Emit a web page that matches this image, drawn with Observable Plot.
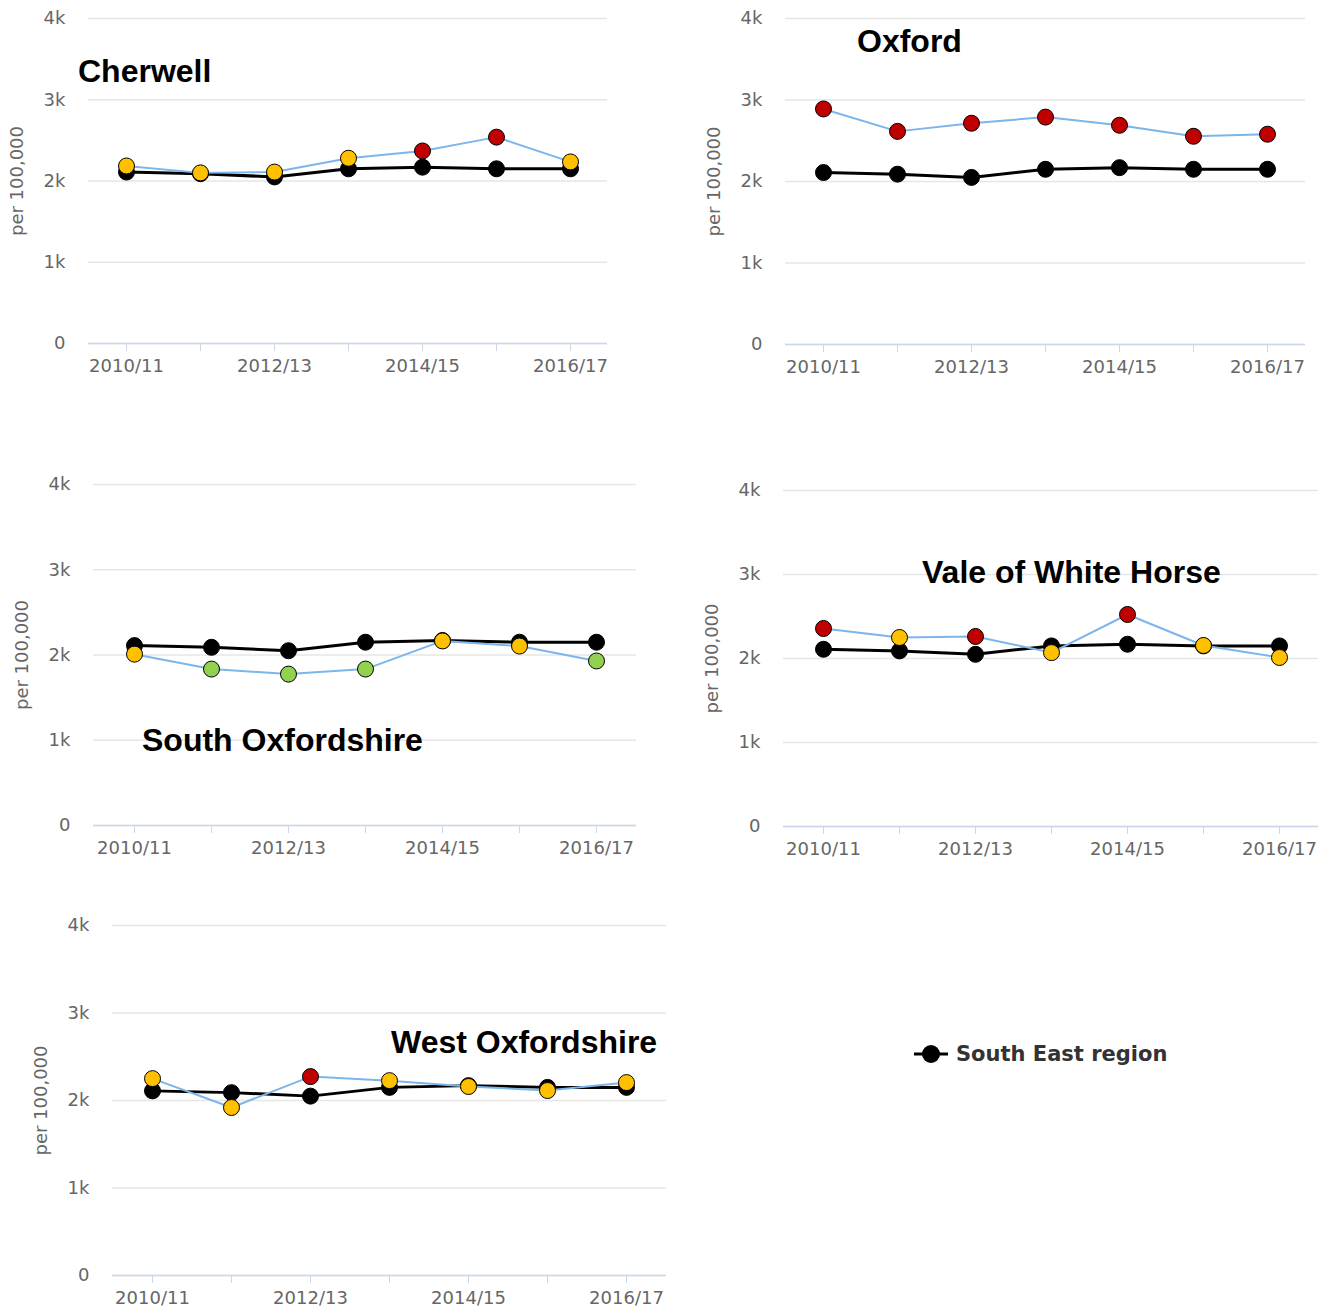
<!DOCTYPE html>
<html>
<head>
<meta charset="utf-8">
<script src="https://cdn.jsdelivr.net/npm/d3@7"></script>
<script src="https://cdn.jsdelivr.net/npm/@observablehq/plot@0.6"></script>
<style>
  html, body { margin: 0; padding: 0; background: #fff; }
  #root { position: relative; width: 1333px; height: 1313px; overflow: hidden; }
  .panel { position: absolute; }
  .title { position: absolute; font-family: "Liberation Sans", Arial, sans-serif; font-weight: bold; font-size: 32px; line-height: 1; color: #000; white-space: nowrap; }
  #legend { position: absolute; left: 912px; top: 1041px; display: flex; align-items: center; font-family: "DejaVu Sans", sans-serif; font-weight: bold; font-size: 21px; color: #333; white-space: nowrap; }
</style>
</head>
<body>
<div id="root"></div>
<script>
// ---- data ----
const years = ["2010/11", "2011/12", "2012/13", "2013/14", "2014/15", "2015/16", "2016/17"];
const xTickLabels = ["2010/11", "2012/13", "2014/15", "2016/17"];
const yTicks = [0, 1000, 2000, 3000, 4000];
const yTickLabels = ["0", "1k", "2k", "3k", "4k"];

const seRegionName = "South East region";
const seRegion = [2110, 2090, 2050, 2150, 2170, 2150, 2150];

const statusDomain = ["Significantly higher", "Not significantly different", "Significantly lower"];
const statusColors = ["#c00000", "#ffc000", "#92d050"];

const cherwell = [2185, 2100, 2110, 2280, 2370, 2540, 2235];
const cherwellStatus = ["Not significantly different", "Not significantly different", "Not significantly different", "Not significantly different", "Significantly higher", "Significantly higher", "Not significantly different"];

const oxford = [2890, 2615, 2715, 2790, 2690, 2555, 2580];
const oxfordStatus = ["Significantly higher", "Significantly higher", "Significantly higher", "Significantly higher", "Significantly higher", "Significantly higher", "Significantly higher"];

const southOxon = [2010, 1835, 1776, 1835, 2165, 2105, 1930];
const southOxonStatus = ["Not significantly different", "Significantly lower", "Significantly lower", "Significantly lower", "Not significantly different", "Not significantly different", "Significantly lower"];

const vale = [2357, 2250, 2262, 2070, 2524, 2155, 2012];
const valeStatus = ["Significantly higher", "Not significantly different", "Significantly higher", "Not significantly different", "Significantly higher", "Not significantly different", "Not significantly different"];

const westOxon = [2250, 1920, 2273, 2227, 2160, 2114, 2205];
const westOxonStatus = ["Not significantly different", "Not significantly different", "Significantly higher", "Not significantly different", "Not significantly different", "Not significantly different", "Not significantly different"];

// ---- layout ----
const root = document.getElementById("root");

function panel(name, values, status, box, titlePos) {
  const local = years.map((y, i) => ({year: y, value: values[i], status: status[i]}));
  const se = years.map((y, i) => ({year: y, value: seRegion[i]}));
  const chart = Plot.plot({
    width: box.width, height: box.height,
    marginLeft: 88, marginRight: box.mr, marginTop: 18, marginBottom: box.mb,
    style: {fontFamily: "DejaVu Sans, sans-serif", fontSize: "18px", color: "#666", background: "transparent", overflow: "visible"},
    x: {type: "point", domain: years, padding: 0.5, label: null},
    y: {domain: [0, 4000], label: null},
    color: {domain: statusDomain, range: statusColors},
    marks: [
      Plot.gridY(yTicks, {stroke: "#e6e6e6", strokeOpacity: 1, strokeWidth: 1.5}),
      Plot.ruleY([0], {stroke: "#ccd6eb", strokeWidth: 1.5}),
      Plot.axisX({ticks: years, tickSize: 8, tickPadding: 8, stroke: "#ccd6eb", strokeOpacity: 1, fill: "#666",
        tickFormat: d => xTickLabels.includes(d) ? d : ""}),
      Plot.axisY({ticks: yTicks, tickSize: 0, tickPadding: 23, fill: "#666",
        tickFormat: d => yTickLabels[yTicks.indexOf(d)],
        label: "per 100,000", labelAnchor: "center", labelArrow: "none", labelOffset: 78}),
      Plot.line(se, {x: "year", y: "value", stroke: "#000", strokeWidth: 3}),
      Plot.dot(se, {x: "year", y: "value", r: 8, fill: "#000", stroke: "#000", strokeWidth: 1}),
      Plot.line(local, {x: "year", y: "value", stroke: "#7cb5ec", strokeWidth: 2}),
      Plot.dot(local, {x: "year", y: "value", r: 8, fill: "status", stroke: "#000", strokeWidth: 1})
    ]
  });
  const wrap = document.createElement("div");
  wrap.className = "panel";
  wrap.style.left = box.left + "px";
  wrap.style.top = box.top + "px";
  wrap.appendChild(chart);
  root.appendChild(wrap);

  const t = document.createElement("div");
  t.className = "title";
  t.textContent = name;
  t.style.left = titlePos[0] + "px";
  t.style.top = titlePos[1] + "px";
  root.appendChild(t);
}

panel("Cherwell", cherwell, cherwellStatus, {left: 0, top: 0, width: 615, height: 385, mr: 8, mb: 42}, [78, 55]);
panel("Oxford", oxford, oxfordStatus, {left: 697, top: 0, width: 615, height: 386, mr: 7, mb: 42}, [857, 25]);
panel("South Oxfordshire", southOxon, southOxonStatus, {left: 5, top: 466, width: 639, height: 401, mr: 8, mb: 42}, [142, 724]);
panel("Vale of White Horse", vale, valeStatus, {left: 695, top: 472, width: 630, height: 396, mr: 7, mb: 42}, [922, 556]);
panel("West Oxfordshire", westOxon, westOxonStatus, {left: 24, top: 907, width: 649, height: 404, mr: 7, mb: 36}, [391, 1026]);

// legend
const legend = document.createElement("div");
legend.id = "legend";
legend.innerHTML = '<svg width="38" height="26" style="margin-right:6px"><line x1="2" x2="36" y1="13" y2="13" stroke="#000" stroke-width="3"/><circle cx="19" cy="13" r="9" fill="#000"/></svg>';
const lt = document.createElement("span");
lt.textContent = seRegionName;
legend.appendChild(lt);
root.appendChild(legend);
</script>
</body>
</html>
